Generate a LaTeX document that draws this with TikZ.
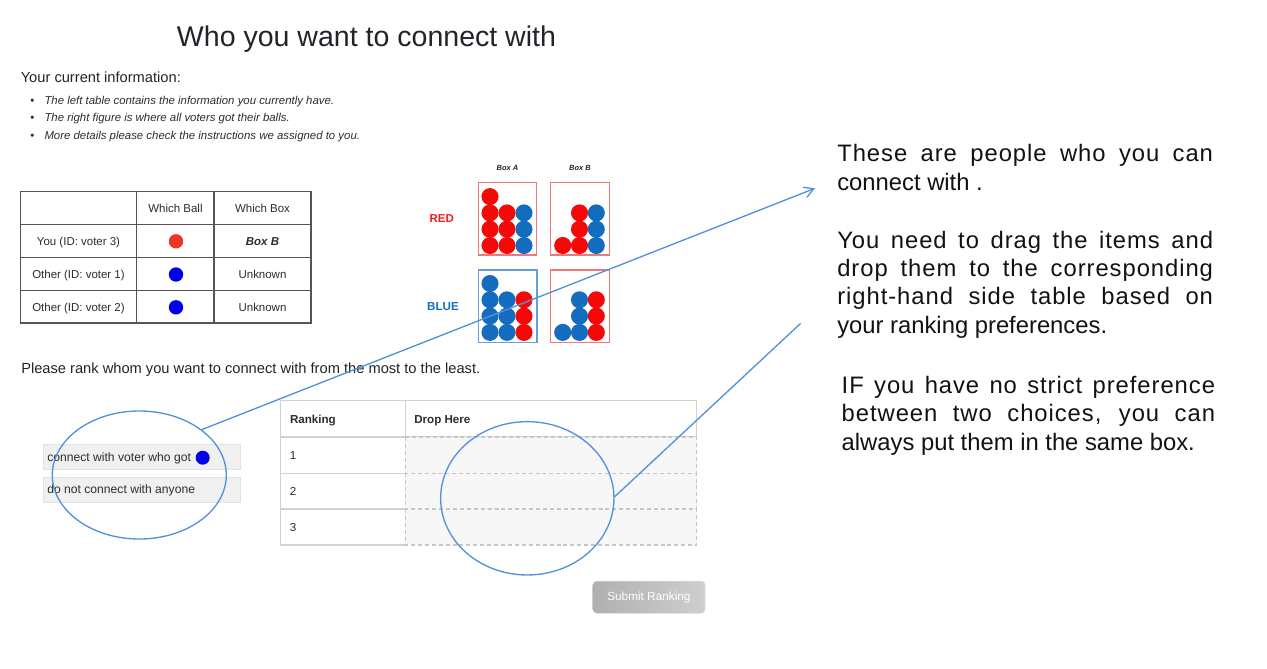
\documentclass[tikz,border=0pt]{standalone}
\usepackage{fontspec}
\setmainfont{Liberation Sans}
\newfontfamily\spcfont[LetterSpace=4]{Liberation Sans}
\usetikzlibrary{shapes.geometric,arrows.meta}
\definecolor{titlecol}{RGB}{33,37,41}
\definecolor{bodycol}{RGB}{45,45,45}
\definecolor{annot}{RGB}{83,146,214}
\definecolor{ballred}{RGB}{245,8,8}
\definecolor{ballblue}{RGB}{20,108,190}
\definecolor{boxred}{RGB}{240,120,120}
\definecolor{boxblue}{RGB}{100,160,215}
\definecolor{labred}{RGB}{245,25,25}
\definecolor{labblue}{RGB}{25,110,195}
\definecolor{dotred}{RGB}{235,55,40}
\definecolor{dotblue}{RGB}{0,0,235}
\definecolor{tline}{RGB}{85,85,85}
\definecolor{itemfill}{RGB}{240,240,240}
\definecolor{itemborder}{RGB}{226,226,226}
\definecolor{rankline}{RGB}{210,210,210}
\definecolor{dashcol}{RGB}{198,198,198}
\definecolor{dropfill}{RGB}{247,247,247}
\newcommand{\fs}[2]{\fontsize{#1pt}{#2pt}\selectfont}
\newcommand{\stline}[2]{\makebox[#1pt][s]{\spcfont #2}}
\begin{document}
\begin{tikzpicture}[x=0.75pt,y=-0.75pt,
  txt/.style={inner sep=0pt,outer sep=0pt,text=bodycol},
  cellt/.style={txt,anchor=base,font=\fs{8.6}{10}},
  dotnode/.style={circle,inner sep=0pt,minimum size=10.8pt},
  ballboxr/.style={draw=boxred,line width=0.9pt},
  ballboxb/.style={draw=boxblue,line width=0.9pt},
  itembox/.style={draw=itemborder,fill=itemfill,line width=0.6pt,inner sep=0pt,anchor=north west,minimum width=148pt,minimum height=18.5pt},
  rankcell/.style={draw=rankline,line width=1pt},
  dropcell/.style={draw=dashcol,fill=dropfill,line width=0.9pt,dash pattern=on 3pt off 2.2pt},
  annotline/.style={draw=annot,line width=1pt},
  bigtxt/.style={inner sep=0pt,outer sep=0pt,anchor=base west,align=left,text=black!93,font=\fs{17.85}{21.3}}
]
\fill[white] (0,0) rectangle (1267,668);
\useasboundingbox (0,0) rectangle (1267,668);

% title and header
\node[txt,anchor=base,text=titlecol,font=\fs{21.4}{25}] (title) at (366.5,46.7) {Who you want to connect with};
\node[txt,anchor=base west,text=titlecol,font=\fs{11}{13}] (info) at (20.8,82) {Your current information:};
\node[txt,anchor=base,font=\fs{8.6}{10}] (b1) at (32.5,104.2) {•};
\node[txt,anchor=base,font=\fs{8.6}{10}] (b2) at (32.5,121.8) {•};
\node[txt,anchor=base,font=\fs{8.6}{10}] (b3) at (32.5,139.4) {•};
\node[txt,anchor=base west,font=\fs{8.55}{10}\itshape] (t1) at (44.5,104.2) {The left table contains the information you currently have.};
\node[txt,anchor=base west,font=\fs{8.55}{10}\itshape] (t2) at (44.5,121.8) {The right figure is where all voters got their balls.};
\node[txt,anchor=base west,font=\fs{8.55}{10}\itshape] (t3) at (44.5,139.4) {More details please check the instructions we assigned to you.};

% left table
\draw[tline,line width=0.8pt] (20.5,191.7) rectangle (311,323);
\draw[tline,line width=0.8pt] (20.5,224.3) -- (311,224.3) (20.5,257.7) -- (311,257.7) (20.5,290.7) -- (311,290.7)
  (136.7,191.7) -- (136.7,323) (214,191.7) -- (214,323);
\node[cellt] (hball) at (175.5,212) {Which Ball};
\node[cellt] (hbox) at (262.5,212) {Which Box};
\node[cellt] (r1a) at (78.5,245.2) {You (ID: voter 3)};
\node[cellt] (r2a) at (78.5,278.3) {Other (ID: voter 1)};
\node[cellt] (r3a) at (78.5,311.3) {Other (ID: voter 2)};
\node[dotnode,fill=dotred] (d1) at (176,241.3) {};
\node[dotnode,fill=dotblue] (d2) at (176,274.5) {};
\node[dotnode,fill=dotblue] (d3) at (176,307.3) {};
\node[cellt,font=\fs{8.6}{10}\bfseries\itshape] (r1c) at (262.5,245.2) {Box B};
\node[cellt] (r2c) at (262.5,278.3) {Unknown};
\node[cellt] (r3c) at (262.5,311.3) {Unknown};

% ball figure
\node[txt,anchor=base,text=black!85,font=\fs{5.6}{7}\bfseries\itshape] (boxa) at (507.5,170.3) {Box A};
\node[txt,anchor=base,text=black!85,font=\fs{5.6}{7}\bfseries\itshape] (boxb) at (580,170.3) {Box B};
\node[txt,anchor=base,text=labred,font=\fs{8.6}{10}\bfseries] (redlab) at (441.7,222.4) {RED};
\node[txt,anchor=base,text=labblue,font=\fs{8.7}{10}\bfseries] (bluelab) at (443,310.8) {BLUE};
% Box A, red row
\foreach \i/\j/\cc in {0/0/ballred,0/1/ballred,0/2/ballred,0/3/ballred,1/1/ballred,1/2/ballred,1/3/ballred,2/1/ballblue,2/2/ballblue,2/3/ballblue}
  \fill[\cc] (490+17*\i,196.6+16.3*\j) circle[radius=6.4pt];
% Box B, red row
\foreach \i/\j/\cc in {0/3/ballred,1/1/ballred,1/2/ballred,1/3/ballred,2/1/ballblue,2/2/ballblue,2/3/ballblue}
  \fill[\cc] (562.7+16.8*\i,196.6+16.3*\j) circle[radius=6.4pt];
% Box A, blue row
\foreach \i/\j/\cc in {0/0/ballblue,0/1/ballblue,0/2/ballblue,0/3/ballblue,1/1/ballblue,1/2/ballblue,1/3/ballblue,2/1/ballred,2/2/ballred,2/3/ballred}
  \fill[\cc] (490+17*\i,283.5+16.3*\j) circle[radius=6.4pt];
% Box B, blue row
\foreach \i/\j/\cc in {0/3/ballblue,1/1/ballblue,1/2/ballblue,1/3/ballblue,2/1/ballred,2/2/ballred,2/3/ballred}
  \fill[\cc] (562.7+16.8*\i,283.5+16.3*\j) circle[radius=6.4pt];
\draw[ballboxr] (478.3,182.7) rectangle (536.7,255);
\draw[ballboxr] (550.7,182.7) rectangle (609.3,255);
\draw[ballboxb] (478.3,270) rectangle (537,342.3);
\draw[ballboxr] (550.7,270) rectangle (609.3,342.3);

% ranking prompt
\node[txt,anchor=base west,text=titlecol,font=\fs{11}{13}] (prompt) at (21.3,373.3) {Please rank whom you want to connect with from the most to the least.};

% draggable items
\node[itembox] (item1) at (42.7,444.3) {};
\node[itembox] (item2) at (42.7,476.9) {};
\node[txt,anchor=base west,font=\fs{9.1}{11}] (item1t) at (47.3,461) {connect with voter who got};
\node[txt,anchor=base west,font=\fs{9.1}{11}] (item2t) at (47.3,493.6) {do not connect with anyone};
\node[dotnode,fill=dotblue,minimum size=10.5pt] (d4) at (202.7,457.7) {};

% ranking table
\draw[rankcell] (280.7,400.7) rectangle (696.7,437);
\draw[rankcell] (405.3,400.7) -- (405.3,437);
\draw[rankcell] (280.7,437) rectangle (405.3,473.3);
\draw[rankcell] (280.7,473.3) rectangle (405.3,509);
\draw[rankcell] (280.7,509) rectangle (405.3,545);
\draw[dropcell] (405.3,437) rectangle (696.7,473.3);
\draw[dropcell] (405.3,473.3) rectangle (696.7,509);
\draw[dropcell] (405.3,509) rectangle (696.7,545);
\node[txt,anchor=base west,font=\fs{8.7}{10}\bfseries] (hrank) at (290,423.2) {Ranking};
\node[txt,anchor=base west,font=\fs{8.7}{10}\bfseries] (hdrop) at (414.3,423.2) {Drop Here};
\node[txt,anchor=base west,font=\fs{8.7}{10}] (n1) at (289.8,459.4) {1};
\node[txt,anchor=base west,font=\fs{8.7}{10}] (n2) at (289.8,495.3) {2};
\node[txt,anchor=base west,font=\fs{8.7}{10}] (n3) at (289.8,531.2) {3};

% submit button
\node[rounded corners=3pt,left color=black!31,right color=black!19,draw=black!12,line width=0.4pt,
  minimum width=84.4pt,minimum height=24.2pt,inner sep=0pt,text=white,font=\fs{8.85}{10}] (btn) at (648.9,597.2) {Submit Ranking};

% right-hand explanation (anchored at the baseline of each paragraph's last line)
\node[bigtxt] (p1) at (837.3,190) {\stline{281.8}{These are people who you can}\\connect with .};
\node[bigtxt] (p2) at (837.3,333.3) {\stline{281.8}{You need to drag the items and}\\\stline{281.8}{drop them to the corresponding}\\\stline{281.8}{right-hand side table based on}\\your ranking preferences.};
\node[bigtxt] (p3) at (841.7,450) {\stline{280}{IF you have no strict preference}\\\stline{280}{between two choices, you can}\\always put them in the same box.};

% annotations
\node[ellipse,annotline,minimum width=130.5pt,minimum height=96pt,inner sep=0pt] (lell) at (139.3,475) {};
\node[ellipse,annotline,minimum width=130pt,minimum height=115pt,inner sep=0pt] (rell) at (527.3,498.3) {};
\coordinate (arr1) at (815,188.3);
\coordinate (arr2) at (800.7,323.3);
\draw[annotline,-{Straight Barb[length=7pt,width=8pt]}] (lell.36) -- (arr1);
\draw[annotline] (rell.1) -- (arr2);
\end{tikzpicture}
\end{document}
